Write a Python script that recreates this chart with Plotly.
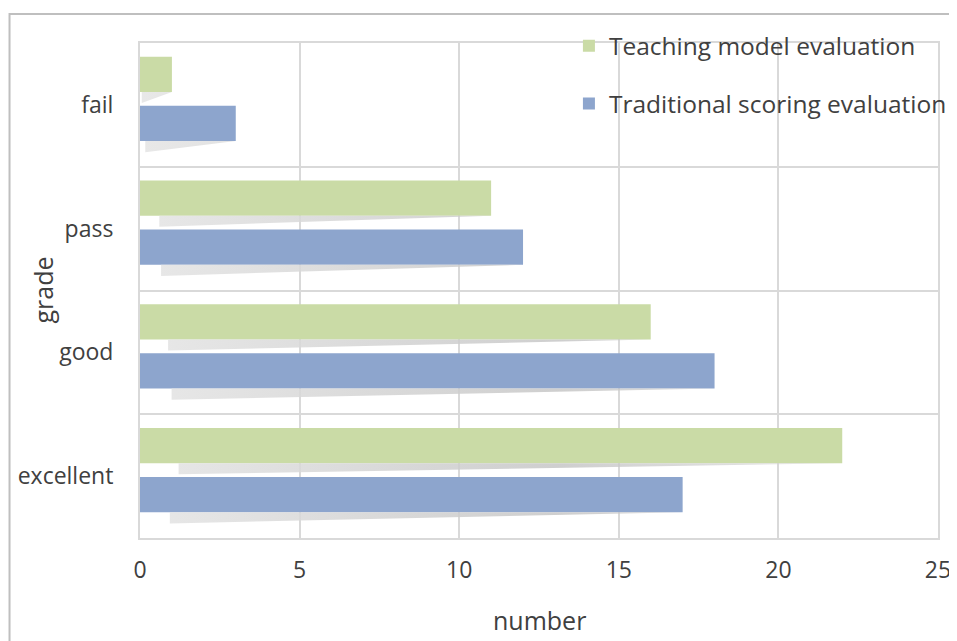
import plotly.graph_objects as go

categories = ["excellent", "good", "pass", "fail"]
teaching = [22, 16, 11, 1]
traditional = [17, 18, 12, 3]
series_names = ["Teaching model evaluation", "Traditional scoring evaluation"]
x_ticks = [0, 5, 10, 15, 20, 25]
x_title = "number"
y_title = "grade"

GREEN = "#CADBA6"
BLUE = "#8DA5CD"
FONT = "Open Sans"
TXT = "#404040"
GRID = "#D9D9D9"

BAR_W = 0.284
OFF_GREEN = 0.105
OFF_BLUE = -0.292
SHADOW_DEPTH = 0.09
SKEW = 0.055

fig = go.Figure()

# perspective shadows computed from the data (decorative)
sx, sy = [], []
for vals, off in ((teaching, OFF_GREEN), (traditional, OFF_BLUE)):
    for i, v in enumerate(vals):
        yb = i + off
        xl = SKEW * v
        sx += [xl, v, xl, xl, None]
        sy += [yb, yb, yb - SHADOW_DEPTH, yb, None]

fig.add_trace(go.Scatter(
    x=sx, y=sy, yaxis="y2", mode="lines", fill="toself",
    line=dict(width=0, color="rgba(0,0,0,0)"),
    fillgradient=dict(type="horizontal",
                      colorscale=[[0, "rgba(228,228,228,0.85)"], [0.6, "rgba(198,198,198,0.85)"], [1, "rgba(215,215,215,0.6)"]]),
    showlegend=False, hoverinfo="skip",
))

fig.add_trace(go.Bar(
    y=categories, x=teaching, orientation="h", name=series_names[0],
    marker=dict(color=GREEN, line=dict(width=0)),
    width=BAR_W, offset=OFF_GREEN, legendgroup="a", legendrank=1,
))
fig.add_trace(go.Bar(
    y=categories, x=traditional, orientation="h", name=series_names[1],
    marker=dict(color=BLUE, line=dict(width=0)),
    width=BAR_W, offset=OFF_BLUE, legendgroup="b", legendrank=2,
))

fig.update_layout(
    width=949, height=633,
    margin=dict(l=132, r=19, t=35, b=103, autoexpand=False),
    paper_bgcolor="white", plot_bgcolor="white",
    font=dict(family=FONT, color=TXT, size=23),
    barmode="overlay",
    xaxis=dict(
        range=[0, 25], tickvals=x_ticks, showgrid=True, gridcolor=GRID, gridwidth=2,
        zeroline=False, showline=True, linecolor=GRID, linewidth=2, mirror=True,
        tickfont=dict(size=23, color=TXT), ticks="", ticklabelstandoff=10,
        automargin=False, fixedrange=True,
    ),
    yaxis=dict(
        type="category", categoryorder="array", categoryarray=categories,
        range=[-0.5, 3.5], tickson="boundaries", showgrid=True, gridcolor=GRID, gridwidth=2,
        showline=True, linecolor=GRID, linewidth=2, mirror=True, ticks="",
        tickfont=dict(size=23, color=TXT), ticklabelstandoff=20,
        automargin=False, fixedrange=True,
    ),
    yaxis2=dict(overlaying="y", range=[-0.5, 3.5], visible=False, fixedrange=True),
    legend=dict(
        x=0.5375, y=1.04, xanchor="left", yanchor="top",
        bgcolor="rgba(0,0,0,0)", font=dict(size=24.5, color=TXT),
        traceorder="grouped", tracegroupgap=23, itemwidth=30,
    ),
    annotations=[
        dict(text=x_title, xref="paper", yref="paper", x=0.5, y=-0.1657,
             xanchor="center", yanchor="middle", showarrow=False,
             font=dict(size=25, color=TXT)),
        dict(text=y_title, xref="paper", yref="paper", x=-0.1228, y=0.5,
             xanchor="center", yanchor="middle", showarrow=False, textangle=-90,
             font=dict(size=25, color=TXT)),
    ],
    shapes=[dict(type="rect", xref="paper", yref="paper",
                 x0=-0.1635, x1=1.05, y0=-0.4, y1=1.0586,
                 line=dict(color="#BFBFBF", width=2), layer="below")],
    showlegend=True,
)

fig.write_html("out.html")
